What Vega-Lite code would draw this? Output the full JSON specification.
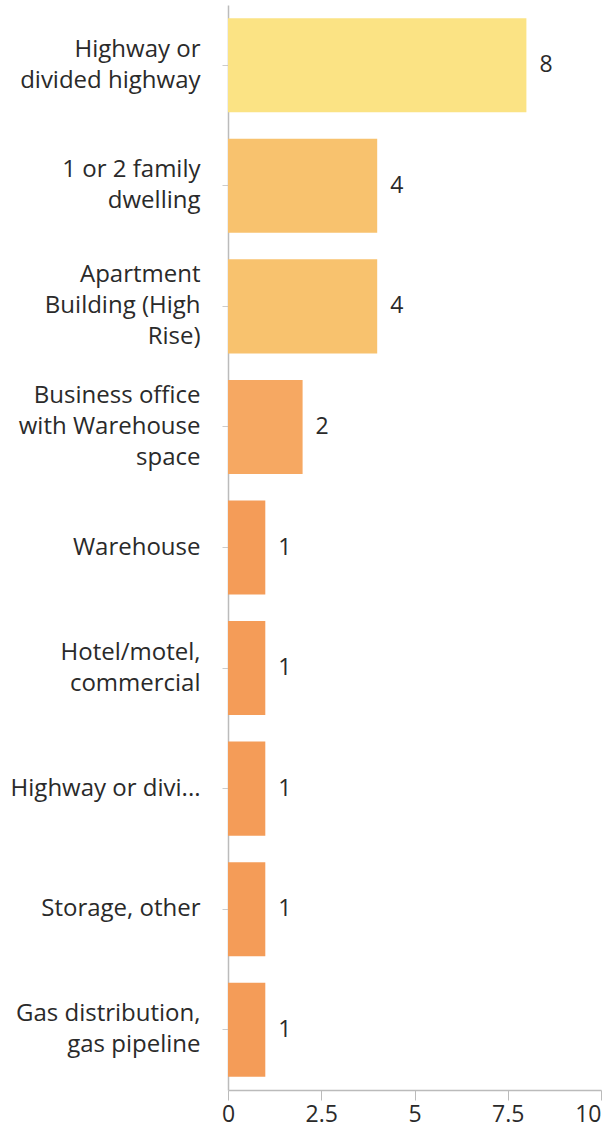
{
  "$schema": "https://vega.github.io/schema/vega-lite/v6.json",
  "autosize": "none",
  "width": 373,
  "height": 1085,
  "padding": {"left": 228, "top": 5, "right": 4, "bottom": 45},
  "background": "white",
  "config": {"view": {"stroke": null}, "font": "Open Sans"},
  "data": {
    "values": [
      {"category": "Highway or|divided highway", "count": 8},
      {"category": "1 or 2 family|dwelling", "count": 4},
      {"category": "Apartment|Building (High|Rise)", "count": 4},
      {"category": "Business office|with Warehouse|space", "count": 2},
      {"category": "Warehouse", "count": 1},
      {"category": "Hotel/motel,|commercial", "count": 1},
      {"category": "Highway or divi...", "count": 1},
      {"category": "Storage, other", "count": 1},
      {"category": "Gas distribution,|gas pipeline", "count": 1}
    ]
  },
  "encoding": {
    "y": {
      "field": "category",
      "type": "nominal",
      "sort": null,
      "scale": {"paddingInner": 0.22, "paddingOuter": 0.11},
      "axis": {
        "title": null,
        "labelExpr": "split(datum.label, '|')",
        "labelFont": "Open Sans",
        "labelFontSize": 24,
        "labelLineHeight": 31,
        "labelColor": "#2a2a2a",
        "labelPadding": 22,
        "labelLimit": 228,
        "labelOffset": {
          "condition": [
            {"test": "length(split(datum.value, '|')) == 3", "value": -31},
            {"test": "length(split(datum.value, '|')) == 2", "value": -15.5}
          ],
          "value": 0
        },
        "tickSize": 6,
        "tickColor": "#cccccc",
        "domainColor": "#bbbbbb",
        "domainWidth": 1.5
      }
    },
    "x": {
      "field": "count",
      "type": "quantitative",
      "scale": {"domain": [0, 10]},
      "axis": {
        "title": null,
        "values": [0, 2.5, 5, 7.5, 10],
        "format": ".1~f",
        "grid": false,
        "labelFont": "Open Sans",
        "labelFontSize": 23,
        "labelColor": "#2a2a2a",
        "labelPadding": 3,
        "labelFlush": false,
        "labelOverlap": false,
        "labelAlign": {"condition": {"test": "datum.value == 10", "value": "right"}, "value": "center"},
        "tickSize": 10,
        "tickColor": "#bbbbbb",
        "domainColor": "#bbbbbb",
        "domainWidth": 1.5
      }
    }
  },
  "layer": [
    {
      "mark": {"type": "bar"},
      "encoding": {
        "color": {
          "field": "count",
          "type": "ordinal",
          "scale": {"domain": [8, 4, 2, 1], "range": ["#fbe384", "#f8c26e", "#f6a862", "#f49c58"]},
          "legend": null
        }
      }
    },
    {
      "mark": {"type": "text", "align": "left", "baseline": "middle", "dx": 13, "font": "Open Sans", "fontSize": 23, "color": "#2a2a2a"},
      "encoding": {"text": {"field": "count", "type": "quantitative"}}
    }
  ]
}
